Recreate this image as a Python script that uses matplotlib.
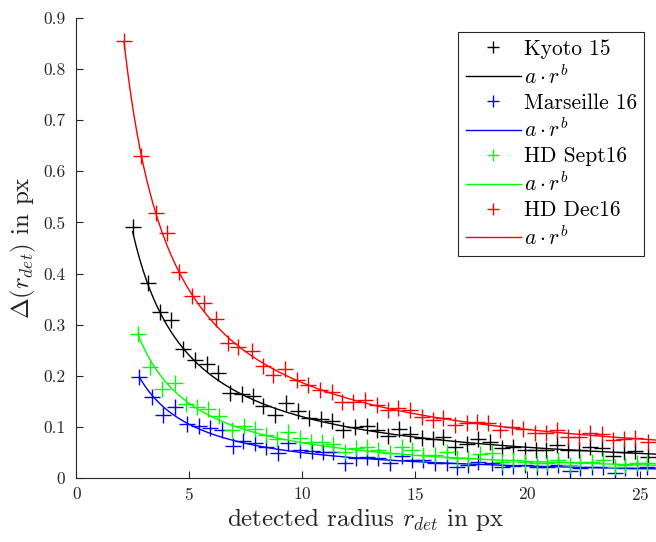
import numpy as np
import matplotlib
matplotlib.use("Agg")
import matplotlib.pyplot as plt

plt.rcParams['font.family'] = 'serif'
plt.rcParams['font.serif'] = ['cmr10']
plt.rcParams['mathtext.fontset'] = 'cm'
plt.rcParams['axes.formatter.use_mathtext'] = True

# measured points (detected radius, deviation)
kyoto_r = [2.49, 3.16, 3.70, 4.17, 4.74, 5.26, 5.77, 6.29, 6.81, 7.33, 7.81, 8.28, 8.80, 9.29, 9.84, 10.32,
           10.83, 11.34, 11.83, 12.35, 12.87, 13.31, 13.83, 14.31, 14.79, 15.31, 15.82, 16.27, 16.78, 17.30,
           17.82, 18.34, 18.86, 19.37, 19.89, 20.38, 20.82, 21.32, 21.81, 22.30, 22.77, 23.29, 23.80, 24.28,
           24.77, 25.33]
kyoto_d = [0.491, 0.382, 0.324, 0.310, 0.252, 0.231, 0.224, 0.206, 0.166, 0.164, 0.160, 0.141, 0.123, 0.146,
           0.131, 0.117, 0.115, 0.112, 0.094, 0.099, 0.102, 0.094, 0.082, 0.095, 0.087, 0.078, 0.076, 0.080,
           0.061, 0.067, 0.076, 0.071, 0.058, 0.061, 0.055, 0.055, 0.055, 0.065, 0.055, 0.055, 0.061, 0.058,
           0.043, 0.051, 0.053, 0.042]

mars_r = [2.79, 3.33, 3.82, 4.37, 4.91, 5.43, 5.92, 6.44, 6.92, 7.40, 7.92, 8.42, 8.92, 9.39, 9.91, 10.43,
          10.92, 11.39, 11.91, 12.39, 12.87, 13.38, 13.90, 14.42, 14.86, 15.38, 15.90, 16.42, 16.86, 17.37,
          17.82, 18.41, 18.86, 19.37, 19.89, 20.41, 20.85, 21.37, 21.88, 22.33, 22.85, 23.36, 23.88, 24.32,
          24.84, 25.31]
mars_d = [0.197, 0.159, 0.123, 0.138, 0.106, 0.102, 0.097, 0.093, 0.062, 0.072, 0.068, 0.061, 0.048, 0.068,
          0.055, 0.053, 0.050, 0.050, 0.030, 0.039, 0.042, 0.039, 0.029, 0.043, 0.035, 0.035, 0.029, 0.029,
          0.022, 0.025, 0.032, 0.029, 0.022, 0.023, 0.025, 0.022, 0.022, 0.025, 0.014, 0.019, 0.022, 0.022,
          0.009, 0.019, 0.019, 0.022]

sept_r = [2.72, 3.26, 3.80, 4.37, 4.85, 5.34, 5.85, 6.33, 6.90, 7.42, 7.90, 8.40, 8.88, 9.39, 9.91, 10.41,
          10.90, 11.38, 11.91, 12.39, 12.87, 13.38, 13.90, 14.42, 14.86, 15.38, 15.90, 16.42, 16.86, 17.37,
          17.89, 18.41, 18.86, 19.37, 19.89, 20.41, 20.85, 21.37, 21.88, 22.33, 22.85, 23.36, 23.88, 24.32,
          24.84, 25.31]
sept_d = [0.281, 0.218, 0.174, 0.185, 0.144, 0.139, 0.135, 0.122, 0.094, 0.102, 0.096, 0.084, 0.076, 0.090,
          0.078, 0.071, 0.070, 0.067, 0.050, 0.058, 0.060, 0.055, 0.048, 0.061, 0.055, 0.045, 0.045, 0.050,
          0.039, 0.039, 0.047, 0.048, 0.032, 0.035, 0.032, 0.029, 0.029, 0.035, 0.025, 0.032, 0.032, 0.035,
          0.022, 0.025, 0.029, 0.029]

dec_r = [2.11, 2.85, 3.51, 4.03, 4.56, 5.11, 5.67, 6.19, 6.70, 7.15, 7.77, 8.28, 8.73, 9.25, 9.77, 10.28,
         10.80, 11.32, 11.76, 12.27, 12.79, 13.31, 13.83, 14.27, 14.79, 15.31, 15.82, 16.27, 16.79, 17.30,
         17.75, 18.26, 18.78, 19.30, 19.81, 20.33, 20.82, 21.32, 21.81, 22.30, 22.77, 23.29, 23.80, 24.28,
         24.77, 25.33]
dec_d = [0.855, 0.630, 0.519, 0.479, 0.404, 0.357, 0.342, 0.311, 0.265, 0.257, 0.249, 0.219, 0.202, 0.213,
         0.192, 0.182, 0.172, 0.169, 0.149, 0.149, 0.153, 0.143, 0.133, 0.137, 0.133, 0.120, 0.114, 0.117,
         0.104, 0.107, 0.110, 0.107, 0.093, 0.099, 0.096, 0.089, 0.089, 0.093, 0.081, 0.080, 0.089, 0.086,
         0.074, 0.076, 0.078, 0.071]

# fit parameters a * r^b
fit_a = {"Kyoto 15": 1.20, "Marseille 16": 0.597, "HD Sept16": 0.83, "HD Dec16": 1.77}
fit_b = {"Kyoto 15": -1.0, "Marseille 16": -1.08, "HD Sept16": -1.08, "HD Dec16": -0.977}

series = [
    ("Kyoto 15", kyoto_r, kyoto_d, "#000000"),
    ("Marseille 16", mars_r, mars_d, "#0000ff"),
    ("HD Sept16", sept_r, sept_d, "#00ff00"),
    ("HD Dec16", dec_r, dec_d, "#ff0000"),
]

x_max = 25.7

fig = plt.figure(figsize=(6.56, 5.42), dpi=100)
ax = fig.add_axes([0.1166, 0.1181, 0.8834, 0.8487])

for name, r, d, col in series:
    ax.plot(r, d, linestyle="none", marker="+", ms=11, mew=1.0, color=col, label=name)
    rr = np.linspace(r[0], x_max, 300)
    ax.plot(rr, fit_a[name] * rr ** fit_b[name], color=col, lw=1.0, label=r"$a \cdot r^b$")

ax.set_xlim(0, x_max)
ax.set_ylim(0, 0.9)
ax.set_xticks([0, 5, 10, 15, 20, 25])
ax.set_yticks(np.arange(0, 0.91, 0.1))
ax.set_yticklabels(["0", "0.1", "0.2", "0.3", "0.4", "0.5", "0.6", "0.7", "0.8", "0.9"])
ax.tick_params(direction="in", length=5, width=0.8, labelsize=12.5, colors="#262626")
ax.tick_params(axis="y", pad=8)
ax.tick_params(axis="x", pad=6)
for s in ["top", "right"]:
    ax.spines[s].set_visible(False)
for s in ["left", "bottom"]:
    ax.spines[s].set_color("#262626")
    ax.spines[s].set_linewidth(0.8)

ax.set_xlabel(r"detected radius $r_{det}$ in px", fontsize=18, color="#262626", labelpad=2)
ax.set_ylabel(r"$\Delta(r_{det})$ in px", fontsize=18, color="#262626", labelpad=4)

leg = ax.legend(loc="upper right", bbox_to_anchor=(0.98, 0.97), fontsize=15.5, numpoints=1,
                handlelength=2.55, handletextpad=0.15, labelspacing=0.25, borderpad=0.35,
                borderaxespad=0.0, fancybox=False, framealpha=1, edgecolor="#262626")
leg.get_frame().set_linewidth(0.8)
for h in leg.legend_handles:
    h.set_markersize(9)

fig.savefig("out.png", dpi=100)
